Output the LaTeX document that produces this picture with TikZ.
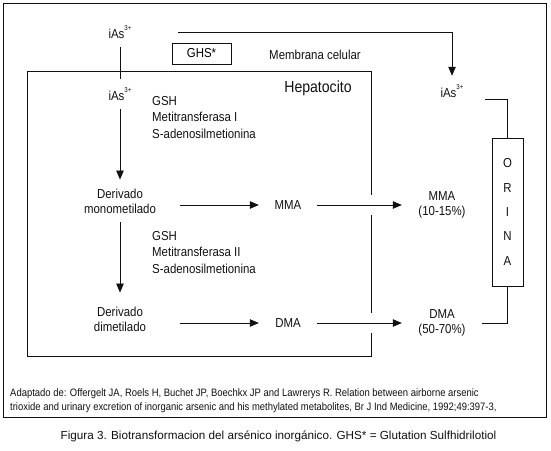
\documentclass[tikz,border=0pt]{standalone}
\usepackage{fontspec}
\setmainfont{Liberation Sans}[FakeStretch=0.88]
\newfontfamily\capfont{Liberation Sans}
\usepackage{tikz}
\usetikzlibrary{arrows.meta, positioning, calc}
\usepackage{xcolor}
\definecolor{Ink}{HTML}{111111}
\newcommand{\ionsup}[1]{\raisebox{0.55em}{\fontsize{7}{8}\selectfont #1}}
\tikzset{
  lbl/.style={font=\fontsize{13}{15}\selectfont, align=center, text=Ink,
    inner xsep=2pt, inner ysep=9pt},
  note/.style={font=\fontsize{13}{16.5}\selectfont, align=left, text=Ink,
    anchor=base west, inner sep=0pt},
  sbox/.style={draw=Ink, line width=0.8pt, font=\fontsize{13}{15}\selectfont,
    minimum width=59pt, minimum height=21pt, inner sep=0pt},
  link/.style={draw=Ink, line width=0.8pt},
  flow/.style={-{Triangle[length=9pt, width=7.5pt]}, draw=Ink, line width=0.8pt},
}

\begin{document}
\begin{tikzpicture}[x=1pt, y=-1pt]
    \useasboundingbox (0,0) rectangle (551,450);
    \draw[link] (3,3) rectangle (546,417);

    % membrane and cell
    \node[lbl, anchor=base] (asTop) at (120,38) {iAs\ionsup{3+}};
    \node[sbox] (ghs) at (201.5,53.5) {GHS*};
    \node[lbl] (memb) at (315,55) {Membrana celular};
    \node[inner sep=0pt, minimum width=343pt, minimum height=284pt] (hep) at (199.5,214) {};
    \node[lbl, font=\fontsize{16}{18}\selectfont] (hepTitle) at (318,88) {Hepatocito};

    % methylation steps (base = last line)
    \node[lbl, anchor=base] (asIn) at (120,100) {iAs\ionsup{3+}};
    \node[note] (enzA) at (152,138) {GSH\\Metitransferasa I\\S-adenosilmetionina};
    \node[lbl, minimum width=120pt] (derMono) at (120,201) {Derivado\\monometilado};
    \node[note] (enzB) at (152,273) {GSH\\Metitransferasa II\\S-adenosilmetionina};
    \node[lbl, minimum width=120pt] (derDi) at (120,319) {Derivado\\dimetilado};
    \node[lbl, minimum width=58pt] (mmaIn) at (288,205) {MMA};
    \node[lbl, minimum width=58pt] (dmaIn) at (288,323) {DMA};

    % urine
    \node[lbl, anchor=base] (asOut) at (452,97) {iAs\ionsup{3+}};
    \node[lbl, minimum width=80pt] (mmaOut) at (442,205) {MMA\\(10-15\%)};
    \node[lbl, minimum width=80pt] (dmaOut) at (442,323) {DMA\\(50-70\%)};
    \node[draw=Ink, line width=0.8pt, minimum width=31pt, minimum height=148pt,
      align=center, font=\fontsize{13}{24.3}\selectfont, text=Ink] (orina) at (507.5,212)
      {O\\R\\I\\N\\A};

    \draw[link] ($(hep.east |- mmaIn)+(0,-10)$) -- (hep.north east) -- (hep.north west)
      -- (hep.south west) -- (hep.south east) -- ($(hep.east |- dmaIn)+(0,10)$);
    \draw[link] ($(hep.east |- mmaIn)+(0,10)$) -- ($(hep.east |- dmaIn)+(0,-10)$);

    \draw[link] (asTop) -- (asIn);
    \draw[flow] ([xshift=44pt]asTop.east) -| (asOut.north);
    \draw[flow] (asIn) -- (derMono);
    \draw[flow, shorten >=5pt] (derMono) -- (derDi);
    \draw[flow] (derMono.east |- mmaIn) -- (mmaIn);
    \draw[flow] (derDi.east |- dmaIn) -- (dmaIn);
    \draw[flow] (mmaIn) -- (mmaOut);
    \draw[flow] (dmaIn) -- (dmaOut);
    \draw[link] ([xshift=19pt, yshift=-2pt]asOut.base east) -| (orina.north);
    \draw[link] (orina.south) |- (dmaOut.east);

    % source and caption
    \node[note, font=\fontsize{10.75}{14}\selectfont] (refs) at (10,410)
      {Adaptado de: Offergelt JA, Roels H, Buchet JP, Boechkx JP and Lawrerys R. Relation between airborne arsenic\\
       trioxide and urinary excretion of inorganic arsenic and his methylated metabolites, Br J Ind Medicine, 1992;49:397-3,};
    \node[font=\capfont\fontsize{11.7}{13}\selectfont, text=Ink] (caption) at (278.5,436)
      {Figura 3. Biotransformacion del arsénico inorgánico. GHS* = Glutation Sulfhidrilotiol};
  \end{tikzpicture}
\end{document}
